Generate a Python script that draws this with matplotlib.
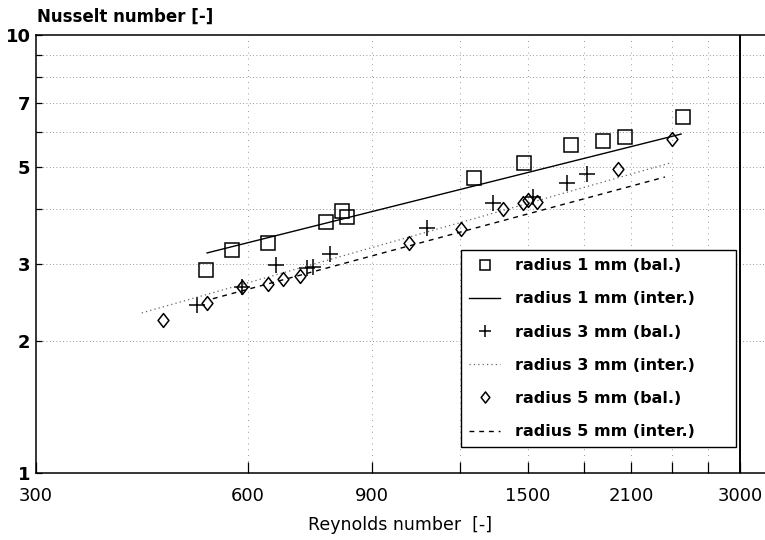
import matplotlib
matplotlib.use("Agg")
import matplotlib.pyplot as plt
from matplotlib.path import Path
from matplotlib.ticker import FixedLocator, FixedFormatter, NullLocator

# Nusselt vs Reynolds, log-log, three nozzle radii

re_r1 = [523, 569, 641, 775, 816, 830, 1257, 1480, 1726, 1916, 2060, 2490]
nu_r1 = [2.91, 3.23, 3.35, 3.74, 3.96, 3.84, 4.72, 5.10, 5.61, 5.73, 5.85, 6.50]

re_r3 = [508, 589, 657, 728, 742, 785, 1078, 1338, 1524, 1705, 1819]
nu_r3 = [2.42, 2.66, 2.98, 2.94, 2.95, 3.16, 3.63, 4.13, 4.27, 4.59, 4.82]

re_r5 = [454, 525, 589, 641, 674, 711, 1016, 1204, 1383, 1476, 1500, 1543, 2015, 2403]
nu_r5 = [2.24, 2.44, 2.66, 2.70, 2.77, 2.81, 3.35, 3.61, 4.00, 4.13, 4.20, 4.16, 4.95, 5.79]

# interpolation lines (end points)
re_fit1 = [525, 2475]
nu_fit1 = [3.18, 5.94]
re_fit3 = [424, 2385]
nu_fit3 = [2.32, 5.10]
re_fit5 = [535, 2348]
nu_fit5 = [2.50, 4.74]

x_ticks = [300, 600, 900, 1200, 1500, 1800, 2100, 2400, 2700, 3000]
x_labels = ["300", "600", "900", "", "1500", "", "2100", "", "", "3000"]
y_ticks = [1, 2, 3, 4, 5, 6, 7, 8, 9, 10]
y_labels = ["1", "2", "3", "", "5", "", "7", "", "", "10"]

diamond = Path([(0, -1), (0.78, 0), (0, 1), (-0.78, 0), (0, -1)],
               [Path.MOVETO, Path.LINETO, Path.LINETO, Path.LINETO, Path.CLOSEPOLY])

fig = plt.figure(figsize=(7.65, 5.4), dpi=100)
ax = fig.add_axes([36 / 765, 67 / 540, 729 / 765, 438 / 540])
ax.set_xscale("log")
ax.set_yscale("log")
ax.set_xlim(300, 3257)
ax.set_ylim(1, 10)

# grid
for yv in y_ticks[1:-1]:
    ax.axhline(yv, color="#777777", lw=0.6, ls=(0, (1, 3)), zorder=0)
for xv in x_ticks[1:-1]:
    ax.axvline(xv, color="#777777", lw=0.6, ls=(0, (1, 6)), zorder=0)
ax.axvline(3000, color="black", lw=1.4, zorder=1)

ax.plot(re_r1, nu_r1, ls="none", marker="s", ms=9.5, mfc="none", mec="black",
        mew=1.1, label="radius 1 mm (bal.)")
ax.plot(re_fit1, nu_fit1, color="black", lw=1.0, label="radius 1 mm (inter.)")
ax.plot(re_r3, nu_r3, ls="none", marker="+", ms=11, mec="black", mew=1.1,
        label="radius 3 mm (bal.)")
ax.plot(re_fit3, nu_fit3, color="#666666", lw=0.9, ls=(0, (1, 2.5)),
        label="radius 3 mm (inter.)")
ax.plot(re_r5, nu_r5, ls="none", marker=diamond, ms=10, mfc="none", mec="black",
        mew=1.1, label="radius 5 mm (bal.)")
ax.plot(re_fit5, nu_fit5, color="black", lw=1.0, ls=(0, (3.5, 3.5)),
        label="radius 5 mm (inter.)")

ax.xaxis.set_major_locator(FixedLocator(x_ticks))
ax.xaxis.set_major_formatter(FixedFormatter(x_labels))
ax.xaxis.set_minor_locator(NullLocator())
ax.yaxis.set_major_locator(FixedLocator(y_ticks))
ax.yaxis.set_major_formatter(FixedFormatter(y_labels))
ax.yaxis.set_minor_locator(NullLocator())
ax.tick_params(axis="x", direction="in", length=8, width=0.9, pad=10,
               labelsize=13)
ax.tick_params(axis="y", direction="in", length=4, width=0.9, pad=4,
               labelsize=13)
for lab in ax.get_yticklabels():
    lab.set_fontweight("bold")

ax.spines["right"].set_visible(False)
for s in ["left", "bottom", "top"]:
    ax.spines[s].set_linewidth(1.1)

fig.text(37 / 765, 1 - 17 / 540, "Nusselt number [-]", fontsize=12,
         fontweight="bold", va="center", ha="left")
ax.set_xlabel("Reynolds number  [-]", fontsize=12.5, labelpad=8)

leg = ax.legend(loc="lower left", bbox_to_anchor=(0.583, 0.059, 0.377, 0.4),
                mode="expand", frameon=True, fancybox=False, edgecolor="black",
                framealpha=1, prop={"size": 11.5, "weight": "bold"},
                labelspacing=1.14, handlelength=1.95, handletextpad=0.95,
                borderpad=0.5, borderaxespad=0, markerscale=0.8)
leg.get_frame().set_linewidth(1.0)

fig.savefig("out.png", dpi=100)
